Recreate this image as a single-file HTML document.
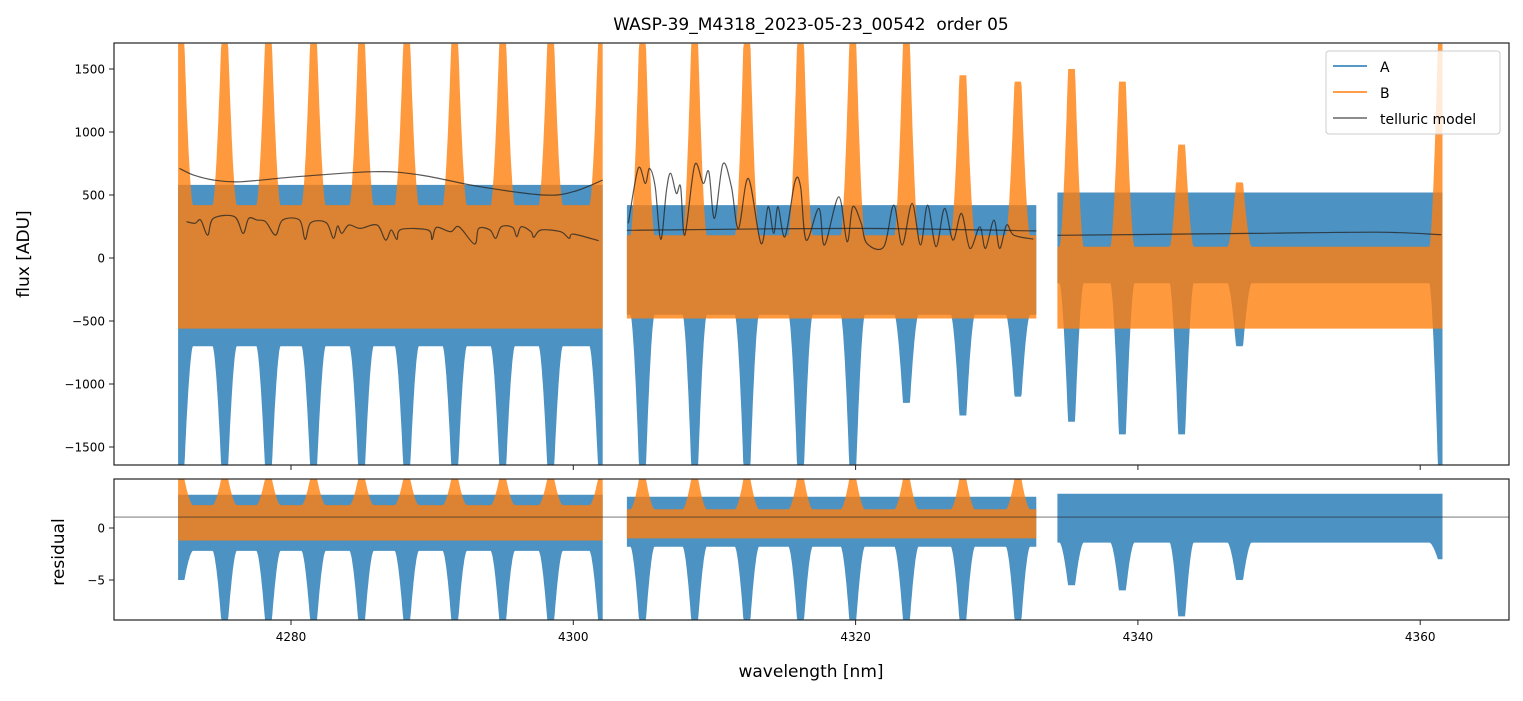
<!DOCTYPE html>
<html><head><meta charset="utf-8"><style>
body{margin:0;background:#fff;font-family:"Liberation Sans","DejaVu Sans",sans-serif}
svg text{font-family:"DejaVu Sans","Liberation Sans",sans-serif}
</style></head><body>
<svg id="chart" width="1523" height="696" xmlns="http://www.w3.org/2000/svg">
<defs>
<clipPath id="cm"><rect x="114" y="43" width="1395" height="422"/></clipPath>
<clipPath id="cr"><rect x="114" y="479" width="1395" height="141"/></clipPath>
</defs>
<rect width="1523" height="696" fill="#fff"/>
<text x="811" y="30" font-size="17" text-anchor="middle">WASP-39_M4318_2023-05-23_00542&#160;&#160;order 05</text>
<g id="gMain" clip-path="url(#cm)"></g>
<g id="gRes" clip-path="url(#cr)"></g>
<g id="gAxes"></g>
<g>
<rect x="1326" y="51" width="174" height="83" rx="3" fill="#fff" fill-opacity="0.8" stroke="#ccc"/>
<line x1="1333" y1="66" x2="1367" y2="66" stroke="#1f77b4" stroke-width="1.6"/><text x="1380" y="72" font-size="14">A</text>
<line x1="1333" y1="92" x2="1367" y2="92" stroke="#ff7f0e" stroke-width="1.6"/><text x="1380" y="98" font-size="14">B</text>
<line x1="1333" y1="118" x2="1367" y2="118" stroke="#666" stroke-width="1.6"/><text x="1380" y="124" font-size="14">telluric model</text>
</g>
</svg>
<script>
const segStart=[4272.0,4303.8,4334.3];
const segEnd=[4302.1,4332.8,4361.6];
const aLo=[-700,-450,-200];
const aHi=[580,420,520];
const bLo=[-560,-480,-560];
const bHi=[420,180,90];
const resALo=[-2.2,-1.8,-1.4];
const resAHi=[3.2,3.0,3.3];
const resBLo=[-1.2,-1.0,null];
const resBHi=[2.2,1.8,null];
const lineWl=[4272.2,4275.3,4278.4,4281.6,4285.0,4288.2,4291.6,4295.0,4298.4,4302.0,4304.9,4308.6,4312.3,4316.1,4319.8,4323.6,4327.6,4331.5,4335.3,4338.9,4343.1,4347.2,4361.5];
const lineAmin=[-1650,-1650,-1650,-1650,-1650,-1650,-1650,-1650,-1650,-1650,-1650,-1650,-1650,-1650,-1650,-1150,-1250,-1100,-1300,-1400,-1400,-700,-1650];
const lineBmax=[1700,1700,1700,1700,1700,1700,1700,1700,1700,1700,1700,1700,1700,1700,1700,1700,1450,1400,1500,1400,900,600,1700];
const lineResA=[-5,-8.8,-8.8,-8.8,-8.8,-8.8,-8.8,-8.8,-8.8,-8.8,-8.8,-8.8,-8.8,-8.8,-8.8,-8.8,-8.8,-8.8,-5.5,-6,-8.5,-5,-3];
const lineResB=[4.7,4.7,4.7,4.7,4.7,4.7,4.7,4.7,4.7,4.7,4.7,4.7,4.7,4.7,4.7,4.7,4.7,4.7,null,null,null,null,null];
const tellUpWl=[4272.1,4273.1,4274.5,4276.4,4280.4,4285.9,4289.2,4293.4,4297.9,4300.0,4302.1];
const tellUpVal=[711,658,619,605,645,685,658,566,500,526,619];
const tellLoWl=[4272.6,4273.2,4273.6,4274.1,4274.5,4276.0,4276.6,4277.0,4277.6,4278.2,4278.9,4279.4,4280.6,4281.0,4281.4,4282.5,4283.0,4283.3,4283.6,4284.1,4284.9,4286.1,4286.7,4287.1,4287.5,4287.8,4289.7,4290.0,4290.3,4291.3,4291.9,4293.0,4293.3,4294.1,4294.5,4294.9,4295.7,4296.0,4296.3,4297.0,4297.2,4297.7,4299.1,4299.7,4300.0,4301.8];
const tellLoVal=[288,275,301,182,314,328,195,314,301,288,182,301,301,148,280,280,156,254,195,262,235,262,142,222,148,227,222,148,243,209,248,111,235,222,156,248,243,169,248,209,164,222,209,156,190,137];
const tellOscWl=[4303.9,4304.6,4305.1,4305.4,4305.8,4306.2,4306.6,4306.9,4307.3,4307.6,4307.9,4308.6,4309.2,4309.6,4310.0,4310.6,4311.2,4311.7,4312.4,4313.3,4313.8,4314.2,4314.5,4315.0,4315.7,4316.1,4316.5,4317.4,4317.8,4318.8,4319.4,4319.8,4320.4,4320.8,4322.0,4322.7,4323.3,4324.0,4324.6,4325.1,4325.7,4326.3,4326.9,4327.5,4328.1,4328.8,4329.2,4329.8,4330.2,4330.7,4331.2,4332.6];
const tellOscVal=[275,711,592,711,566,148,539,672,513,566,182,738,592,685,314,746,566,235,632,116,407,195,407,169,605,566,142,394,103,486,129,407,275,116,90,420,103,433,103,420,90,394,142,354,76,248,76,301,76,262,182,150];
const tellFlatWl=[4303.8,4320.0,4332.8,4334.3,4348.0,4357.0,4361.5];
const tellFlatVal=[220,235,215,180,195,205,185];
const xTicks=[4280,4300,4320,4340,4360];
const yTicks=[-1500,-1000,-500,0,500,1000,1500];
const rTicks=[-5,0];

const NS='http://www.w3.org/2000/svg';
const X=w=>291+(w-4280)*282.3/20;
const Y=v=>258-v*63/500;
const R=v=>528-v*52/5;
function mk(tag,attrs,parent){const e=document.createElementNS(NS,tag);for(const k in attrs)e.setAttribute(k,attrs[k]);parent.appendChild(e);return e;}
const gM=document.getElementById('gMain'),gR=document.getElementById('gRes'),gA=document.getElementById('gAxes');

const CORE=0.25,HALF=0.85;
function prof(d){return d<CORE?1:(d<HALF?Math.pow((HALF-d)/(HALF-CORE),1.6):0);}
function bandBoth(si,lo,hi,minVals,maxVals,sy,parent,color,name){
  if(lo[si]===null)return;
  const top=[],bot=[];
  for(let w=segStart[si];w<=segEnd[si]+1e-6;w+=0.04){
    let l=lo[si],h=hi[si];
    for(let i=0;i<lineWl.length;i++){
      const f=prof(Math.abs(w-lineWl[i]));
      if(f>0){
        if(minVals&&minVals[i]!==null)l=Math.min(l,lo[si]+(minVals[i]-lo[si])*f);
        if(maxVals&&maxVals[i]!==null)h=Math.max(h,hi[si]+(maxVals[i]-hi[si])*f);}
    }
    top.push(X(w).toFixed(1)+','+sy(h).toFixed(1));
    bot.unshift(X(w).toFixed(1)+','+sy(l).toFixed(1));
  }
  const p=mk('polygon',{points:top.concat(bot).join(' '),fill:color,'fill-opacity':0.8},parent);
  
  
}
for(let s=0;s<3;s++){
  bandBoth(s,aLo,aHi,lineAmin,null,Y,gM,'#1f77b4','series-a-band');
  bandBoth(s,bLo,bHi,null,lineBmax,Y,gM,'#ff7f0e','series-b-band');
  bandBoth(s,resALo,resAHi,lineResA,null,R,gR,'#1f77b4','residual-a-band');
  bandBoth(s,resBLo,resBHi,null,lineResB,R,gR,'#ff7f0e','residual-b-band');
}
function poly(ws,vs,name,from,to){
  const P=[];for(let i=from;i<to;i++)P.push([X(ws[i]),Y(vs[i])]);
  let d='M'+P[0][0].toFixed(1)+','+P[0][1].toFixed(1);
  for(let i=0;i<P.length-1;i++){
    const p0=P[Math.max(0,i-1)],p1=P[i],p2=P[i+1],p3=P[Math.min(P.length-1,i+2)];
    const c1=[p1[0]+(p2[0]-p0[0])/6,p1[1]+(p2[1]-p0[1])/6];
    const c2=[p2[0]-(p3[0]-p1[0])/6,p2[1]-(p3[1]-p1[1])/6];
    d+=' C'+c1[0].toFixed(1)+','+c1[1].toFixed(1)+' '+c2[0].toFixed(1)+','+c2[1].toFixed(1)+' '+p2[0].toFixed(1)+','+p2[1].toFixed(1);
  }
  const p=mk('path',{d:d,fill:'none',stroke:'#222','stroke-opacity':0.75,'stroke-width':1.2},gM);
  
  
}
poly(tellUpWl,tellUpVal,'telluric-upper-seg1',0,tellUpWl.length);
poly(tellLoWl,tellLoVal,'telluric-lower-seg1',0,tellLoWl.length);
poly(tellOscWl,tellOscVal,'telluric-seg2-lines',0,tellOscWl.length);
poly(tellFlatWl,tellFlatVal,'telluric-continuum-seg2',0,3);
poly(tellFlatWl,tellFlatVal,'telluric-continuum-seg3',3,7);
const zl=mk('line',{x1:114,x2:1509,y1:R(1.05),y2:R(1.05),stroke:'#222','stroke-opacity':0.7,'stroke-width':0.8},gR);



const f1=mk('rect',{x:114,y:43,width:1395,height:422,fill:'none',stroke:'#222','stroke-width':1.2},gA);


const f2=mk('rect',{x:114,y:479,width:1395,height:141,fill:'none',stroke:'#222','stroke-width':1.2},gA);


xTicks.forEach(t=>{
  mk('line',{x1:X(t),x2:X(t),y1:465,y2:470,stroke:'#222'},gA);
  mk('line',{x1:X(t),x2:X(t),y1:620,y2:625,stroke:'#222'},gA);
  const tx=mk('text',{x:X(t),y:641,'font-size':12,'text-anchor':'middle'},gA);tx.textContent=t;
  
  
});
yTicks.forEach(t=>{
  mk('line',{x1:109,x2:114,y1:Y(t),y2:Y(t),stroke:'#222'},gA);
  const tx=mk('text',{x:105,y:Y(t)+4.5,'font-size':12,'text-anchor':'end'},gA);tx.textContent=t<0?'\u2212'+(-t):t;
  
  
});
rTicks.forEach(t=>{
  mk('line',{x1:109,x2:114,y1:R(t),y2:R(t),stroke:'#222'},gA);
  const tx=mk('text',{x:105,y:R(t)+4.5,'font-size':12,'text-anchor':'end'},gA);tx.textContent=t<0?'\u2212'+(-t):t;
  
  
});
const xl=mk('text',{x:811,y:677,'font-size':17,'text-anchor':'middle'},gA);xl.textContent='wavelength [nm]';


const yl=mk('text',{x:0,y:0,'font-size':17,'text-anchor':'middle',transform:'translate(29,254) rotate(-90)'},gA);yl.textContent='flux [ADU]';


const rl=mk('text',{x:0,y:0,'font-size':17,'text-anchor':'middle',transform:'translate(64,552) rotate(-90)'},gA);rl.textContent='residual';


</script>
</body></html>
